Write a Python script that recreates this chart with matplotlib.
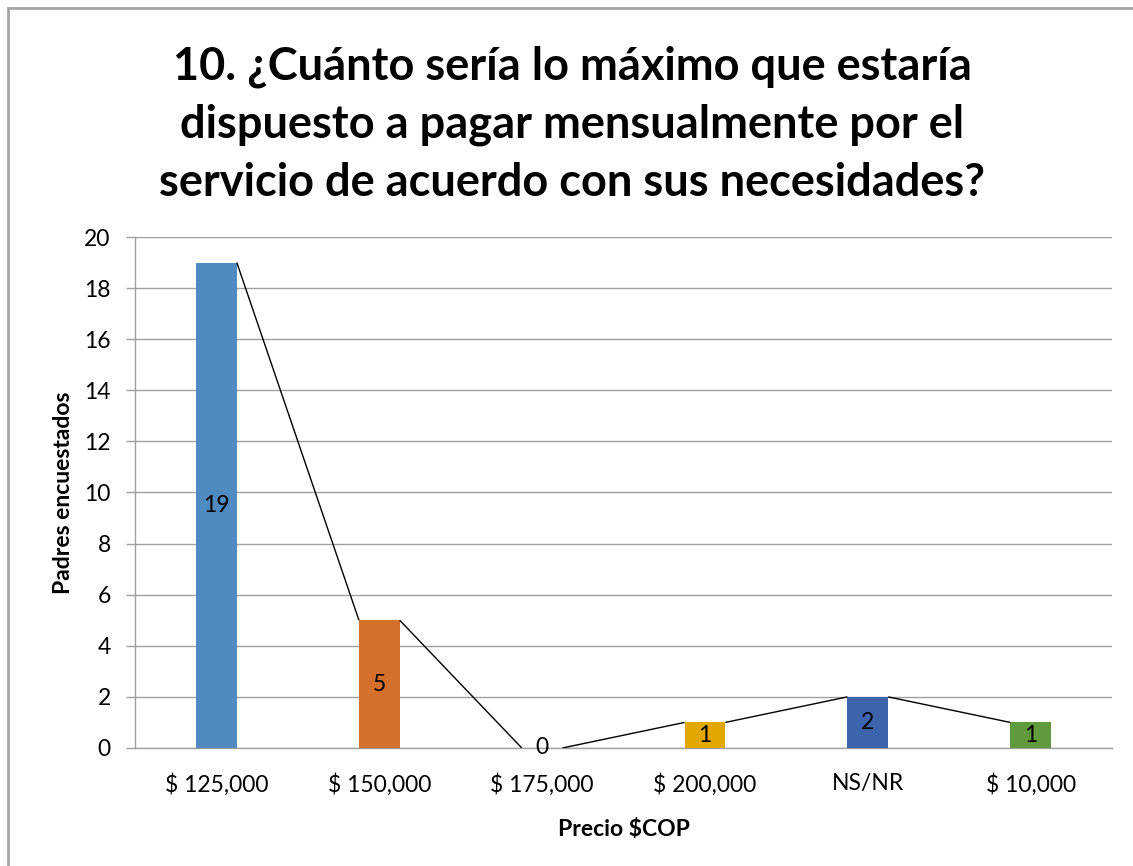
import matplotlib.pyplot as plt
import numpy as np
from matplotlib.patches import Rectangle

plt.rcParams['font.family'] = ['Lato', 'DejaVu Sans']

# Datos
categorias = ['$ 125,000', '$ 150,000', '$ 175,000', '$ 200,000', 'NS/NR', '$ 10,000']
padres = [19, 5, 0, 1, 2, 1]
colores = ['#4F8BC0', '#D4702C', '#A5A5A5', '#E2A700', '#3C63AC', '#5F9A3D']
titulo = ('10. ¿Cuánto sería lo máximo que estaría\n'
          'dispuesto a pagar mensualmente por el\n'
          'servicio de acuerdo con sus necesidades?')

fig = plt.figure(figsize=(11.33, 8.66), dpi=100)
ax = fig.add_axes([0.1192, 0.1363, 0.8623, 0.59])

x = np.arange(len(categorias))
ancho = 0.25
ax.bar(x, padres, width=ancho, color=colores, zorder=3)

# Líneas de serie: esquina derecha de una barra a la izquierda de la siguiente
for i in range(len(padres) - 1):
    ax.plot([x[i] + ancho / 2, x[i + 1] - ancho / 2], [padres[i], padres[i + 1]],
            color='black', lw=1, zorder=4, solid_capstyle='butt')

# Etiquetas de datos en el centro de cada barra
for xi, v in zip(x, padres):
    ax.text(xi, v / 2, str(v), ha='center', va='center', fontsize=16.5, zorder=5)

ax.set_xlim(-0.5, len(categorias) - 0.5)
ax.set_ylim(0, 20)
ax.set_yticks(range(0, 21, 2))
ax.set_xticks(x)
ax.set_xticklabels(categorias, fontsize=16.5)
ax.tick_params(axis='y', labelsize=16.5, length=6.5, width=1, color='#A0A0A0', pad=11)
ax.tick_params(axis='x', length=0, pad=18)
ax.grid(axis='y', color='#A0A0A0', lw=1, zorder=0)
for s in ['top', 'right']:
    ax.spines[s].set_visible(False)
for s in ['left', 'bottom']:
    ax.spines[s].set_color('#A0A0A0')
    ax.spines[s].set_linewidth(1)

ax.set_ylabel('Padres encuestados', fontsize=16.5, fontweight='bold', labelpad=7)
ax.set_xlabel('Precio $COP', fontsize=16.5, fontweight='bold', labelpad=17)

fig.text(0.505, 0.856, titulo, ha='center', va='center', fontsize=32.5,
         fontweight='bold', linespacing=1.45)

# Marco del gráfico
fig.patches.append(Rectangle((8 / 1133, -0.1), 1.2, 1.1 - 8 / 866,
                             transform=fig.transFigure, fill=False,
                             edgecolor='#A6A6A6', lw=2))

fig.savefig('out.png', dpi=100)
